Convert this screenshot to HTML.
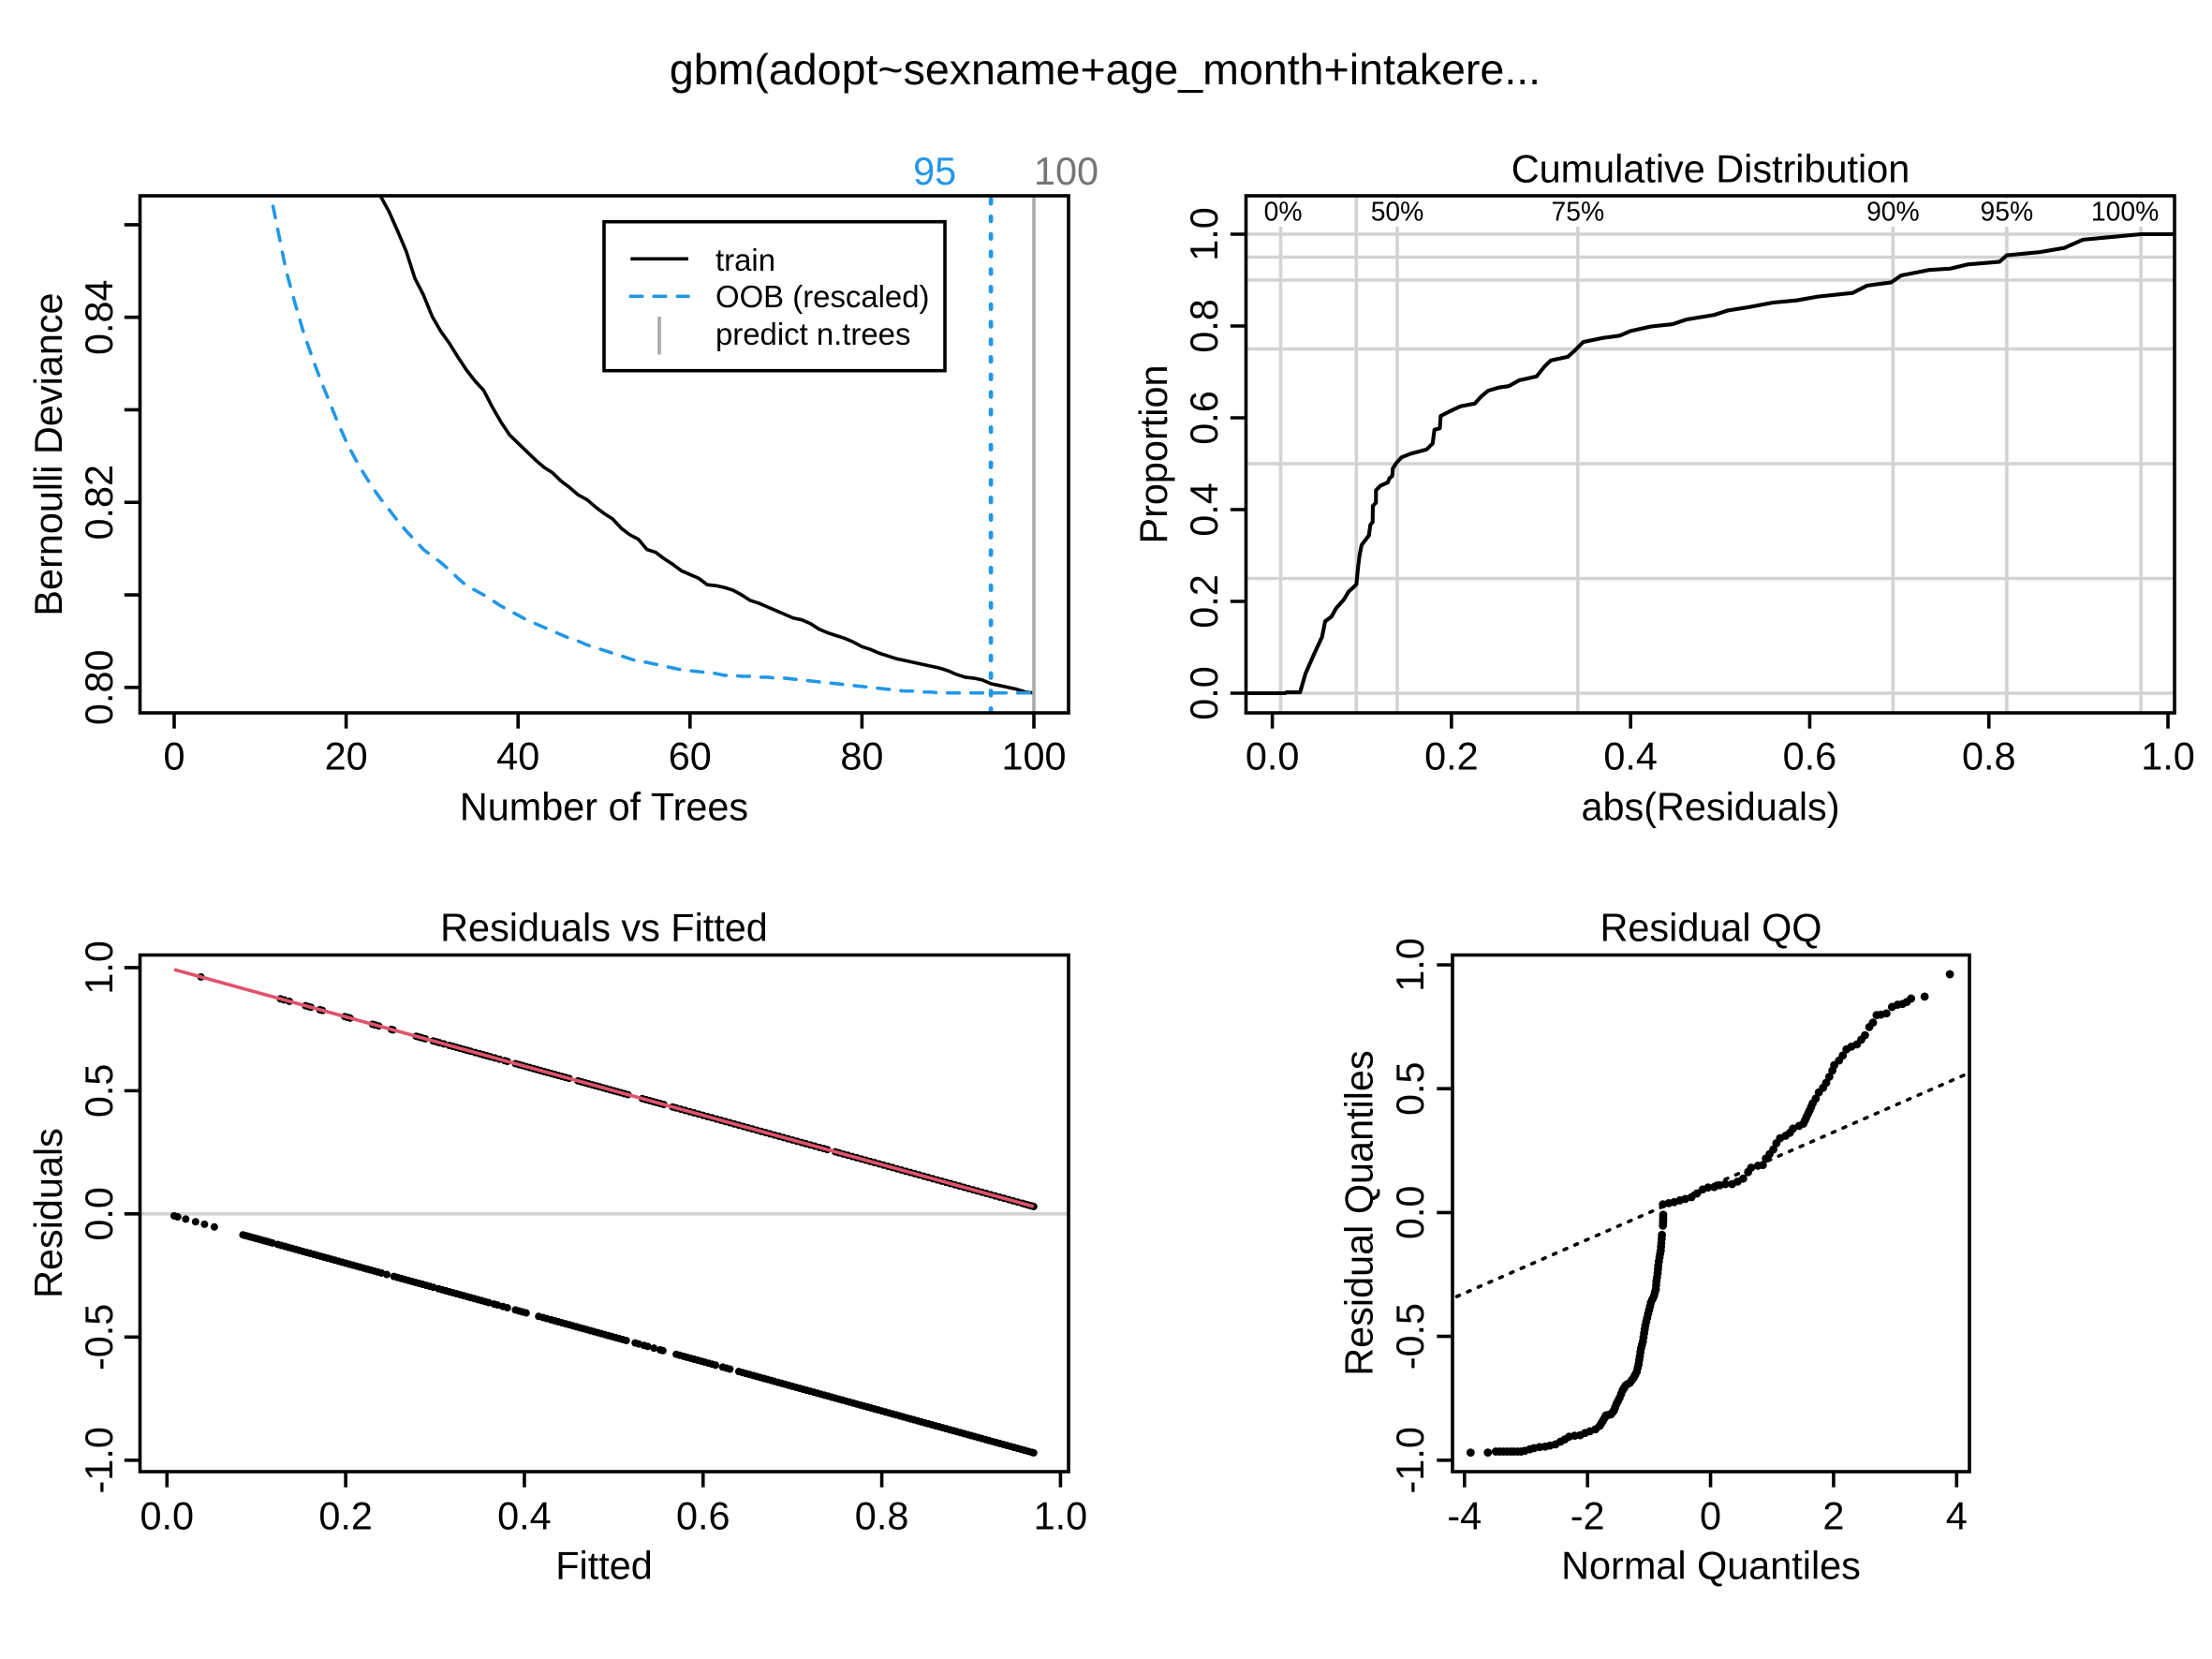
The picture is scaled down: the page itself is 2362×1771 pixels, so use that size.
<!DOCTYPE html>
<html lang="en">
<head>
<meta charset="utf-8">
<title>gbm diagnostics</title>
<style>
html,body{margin:0;padding:0;background:#fff;}
svg{display:block;font-family:"Liberation Sans",Arial,sans-serif;fill:#000;}
text{font-size:41.4px;}
</style>
</head>
<body>
<svg id="chart" xmlns="http://www.w3.org/2000/svg" width="2362" height="1771" viewBox="0 0 2362 1771">
  <rect x="0" y="0" width="2362" height="1771" fill="#fff"/>
  <defs>
    <clipPath id="clip1"><rect x="149.5" y="209" width="991.5" height="552"/></clipPath>
    <clipPath id="clip2"><rect x="1330.5" y="209" width="991.5" height="552"/></clipPath>
    <clipPath id="clip3"><rect x="149.5" y="1019.5" width="991.5" height="551.5"/></clipPath>
    <clipPath id="clip4"><rect x="1551" y="1019.5" width="552" height="551.5"/></clipPath>
  </defs>
  <text x="1180" y="90" text-anchor="middle" style="font-size:46.55px">gbm(adopt~sexname+age_month+intakere...</text>
  <g id="p1"></g>
  <g id="p2"></g>
  <g id="p3"></g>
  <g id="p4"></g>
</svg>
<script>
// ---------- data: deviance panel ----------
const trainTreeStart = 24;
const trainDeviance = [.8531,.8514,.8493,.8471,.8442,.8424,.8401,.8385,.8372,.8357,.8343,.8331,.8321,.8303,.8287,.8273,.8264,.8255,.8246,.8238,.8232,.8223,.8216,.8208,.8203,.8195,.8188,.8182,.8172,.8165,.8160,.8149,.8146,.8139,.8133,.8126,.8122,.8118,.8111,.8110,.8108,.8105,.8100,.8094,.8091,.8087,.8083,.8079,.8075,.8073,.8069,.8063,.8059,.8056,.8053,.8049,.8044,.8041,.8037,.8034,.8031,.8029,.8027,.8025,.8023,.8021,.8018,.8014,.8011,.8010,.8008,.8004,.8002,.8000,.7998,.7995,.7994];
const oobFirstTree = 11.5;
const oobFirstDeviance = .8520;
const oobTreeStart = 12;
const oobDeviance = [.8497,.8451,.8417,.8385,.8358,.8333,.8310,.8287,.8266,.8248,.8232,.8217,.8204,.8192,.8180,.8169,.8159,.8149,.8142,.8135,.8127,.8118,.8110,.8105,.8100,.8094,.8088,.8083,.8078,.8073,.8069,.8065,.8061,.8057,.8053,.8050,.8046,.8043,.8040,.8037,.8034,.8031,.8028,.8027,.8025,.8023,.8021,.8019,.8018,.8017,.8016,.8015,.8013,.8013,.8012,.8012,.8011,.8011,.8010,.8010,.8009,.8008,.8007,.8006,.8005,.8004,.8003,.8002,.8001,.8000,.7999,.7998,.7997,.7996,.7996,.7995,.7995,.7994,.7994,.7994,.7994,.7994,.7994,.7994,.7994,.7994,.7994,.7994,.7994];
const bestTree = 95;
const predictTrees = 100;
const devXTicks = [0,20,40,60,80,100];
const devXTickLabels = ['0','20','40','60','80','100'];
const devYTicks = [.80,.81,.82,.83,.84,.85];
const devYTickLabels = ['0.80','','0.82','','0.84',''];

// ---------- data: cumulative distribution panel ----------
const ecdfResidual = [-.029,.014,.016,.031,.037,.047,.0555,.059,.066,.0712,.0799,.0851,.0938,.0956,.0973,.0997,.1078,.1095,.112,.1123,.1157,.1157,.1207,.1287,.1311,.1339,.1346,.1391,.1444,.1548,.1722,.179,.181,.187,.188,.198,.21,.226,.233,.241,.253,.264,.276,.295,.304,.311,.33,.338,.347,.369,.388,.4,.423,.447,.462,.493,.509,.532,.559,.586,.609,.648,.664,.691,.702,.733,.757,.776,.812,.82,.857,.884,.905,.943,.97,1.008];
const ecdfProportion = [0,0,.002,.002,.0425,.087,.1224,.1565,.1667,.185,.204,.221,.2367,.272,.299,.323,.3435,.367,.3728,.408,.415,.442,.452,.459,.469,.473,.49,.503,.514,.522,.531,.544,.574,.577,.604,.614,.625,.631,.646,.659,.666,.669,.682,.69,.712,.725,.733,.747,.765,.774,.779,.789,.799,.804,.814,.824,.834,.841,.851,.856,.864,.872,.888,.895,.91,.922,.925,.934,.94,.954,.961,.97,.988,.995,1,1];
const quantileProbs = [0,.25,.5,.75,.9,.95,1];
const quantileValues = [.0093,.0938,.1395,.3411,.693,.82,.9698];
const percentLabels = ['0%','50%','75%','90%','95%','100%'];
const percentLabelAt = [.012,.1395,.3411,.693,.82,.952];
const cdfXTicks = [0,.2,.4,.6,.8,1];
const cdfXTickLabels = ['0.0','0.2','0.4','0.6','0.8','1.0'];
const cdfYTicks = [0,.2,.4,.6,.8,1];
const cdfYTickLabels = ['0.0','0.2','0.4','0.6','0.8','1.0'];

// ---------- data: residuals vs fitted panel ----------
const fittedAdopted = [.038,.127,.131,.137,.155,.158,.161,.171,.174,.199,.202,.205,.23,.233,.237,.251,.253,.279,.282,.285,.289,.298,.302,.305,.31,.316,.32,.324,.328,.332,.336,.34,.345,.35,.354,.358,.362,.367,.372,.378,.381,.39,.394,.398,.402,.406,.41,.414,.418,.422,.426,.43,.434,.438,.442,.446,.45,.46,.464,.468,.472,.476,.48,.484,.488,.492,.496,.5,.504,.508,.512,.516,.532,.536,.54,.544,.548,.552,.556,.566,.57,.575,.58,.585,.59,.595,.6,.605,.61,.615,.62,.625,.63,.635,.64,.645,.65,.655,.66,.665,.67,.675,.68,.685,.69,.695,.7,.705,.71,.715,.72,.725,.73,.735,.739,.748,.752,.757,.762,.767,.772,.777,.782,.787,.792,.797,.802,.807,.812,.817,.822,.827,.832,.837,.842,.847,.852,.857,.862,.867,.872,.877,.882,.887,.892,.897,.902,.907,.912,.917,.922,.927,.932,.937,.942,.947,.952,.957,.96,.963,.966,.968,.97];
const fittedNotAdopted = [.008,.012,.021,.032,.042,.053,.085,.088,.091,.094,.097,.1,.103,.106,.109,.112,.115,.118,.124,.128,.132,.136,.14,.144,.148,.152,.156,.16,.164,.168,.172,.176,.18,.184,.188,.192,.196,.2,.204,.208,.212,.216,.22,.224,.228,.232,.236,.24,.246,.254,.258,.262,.266,.27,.274,.278,.282,.286,.29,.294,.298,.304,.308,.312,.316,.32,.324,.328,.332,.336,.34,.344,.348,.352,.356,.36,.366,.37,.376,.381,.39,.394,.398,.402,.416,.421,.425,.43,.434,.438,.442,.446,.45,.454,.458,.462,.466,.47,.474,.478,.482,.486,.49,.494,.498,.502,.506,.51,.514,.524,.528,.534,.538,.545,.552,.555,.57,.574,.578,.582,.586,.59,.594,.598,.602,.606,.61,.614,.622,.626,.63,.64,.644,.648,.652,.656,.66,.664,.668,.672,.676,.68,.684,.688,.692,.696,.7,.704,.708,.712,.716,.72,.724,.728,.732,.736,.74,.744,.748,.752,.756,.76,.764,.768,.772,.776,.78,.784,.788,.792,.796,.8,.804,.808,.812,.816,.82,.824,.828,.832,.836,.84,.844,.848,.852,.856,.86,.864,.868,.872,.876,.88,.884,.888,.892,.896,.9,.904,.908,.912,.916,.92,.924,.928,.932,.936,.94,.944,.948,.952,.956,.96,.964,.968,.97];
const refFitted = [.008,.97];
const refResidual = [.992,.03];
const rvfXTicks = [0,.2,.4,.6,.8,1];
const rvfXTickLabels = ['0.0','0.2','0.4','0.6','0.8','1.0'];
const rvfYTicks = [-1,-.5,0,.5,1];
const rvfYTickLabels = ['-1.0','-0.5','0.0','0.5','1.0'];

// ---------- data: residual QQ panel ----------
const qqNormal = [-3.90,-3.62,-3.49,-3.43,-3.37,-3.31,-3.25,-3.20,-3.14,-3.08,-3.02,-2.94,-2.87,-2.78,-2.69,-2.61,-2.52,-2.44,-2.37,-2.30,-2.21,-2.12,-2.04,-1.96,-1.87,-1.80,
  -1.775,-1.75,-1.725,-1.70,-1.66,-1.62,-1.595,-1.57,-1.55,-1.53,-1.505,-1.48,-1.455,-1.43,-1.405,-1.38,-1.345,-1.31,-1.28,-1.25,-1.225,
  -1.20,-1.185,-1.17,-1.16,-1.15,-1.14,-1.13,-1.115,-1.10,-1.09,-1.08,-1.07,-1.06,-1.045,-1.03,-1.015,-1.00,-.985,-.97,-.945,-.92,-.905,-.89,-.885,-.88,-.87,-.86,-.855,-.85,-.84,-.83,-.82,-.81,-.805,-.80,-.795,-.79,-.775,-.772,-.77,-.77,-.77,
  -.775,-.68,-.59,-.50,-.41,-.31,-.22,-.13,-.04,.06,.15,.24,.35,.44,.53,.61,.66,.77,.85,.90,.96,1.02,1.07,1.13,1.22,1.29,1.34,1.44,1.51,
  1.535,1.56,1.585,1.61,1.635,1.66,1.71,1.76,
  1.83,1.88,1.93,1.98,2.01,2.09,2.15,2.21,2.29,2.38,2.45,2.51,2.58,2.64,2.70,2.77,2.86,2.95,3.04,3.12,3.19,3.26,3.48,3.89];
const qqResidual = [-.969,-.969,-.965,-.965,-.965,-.965,-.965,-.965,-.965,-.965,-.962,-.956,-.951,-.947,-.945,-.941,-.936,-.925,-.916,-.905,-.901,-.899,-.890,-.883,-.875,-.861,
  -.851,-.841,-.83,-.819,-.817,-.815,-.807,-.799,-.786,-.773,-.761,-.749,-.733,-.718,-.708,-.698,-.692,-.687,-.677,-.667,-.655,
  -.643,-.627,-.612,-.596,-.581,-.564,-.548,-.534,-.52,-.503,-.487,-.471,-.456,-.44,-.425,-.409,-.394,-.379,-.364,-.35,-.337,-.323,-.31,-.293,-.277,-.261,-.245,-.229,-.214,-.197,-.181,-.167,-.154,-.138,-.123,-.106,-.09,-.053,-.04,-.029,-.019,-.009,
  .033,.038,.042,.049,.055,.062,.077,.093,.101,.103,.110,.115,.115,.125,.137,.163,.181,.189,.192,.218,.236,.255,.280,.300,.310,.322,.339,.350,.359,
  .372,.386,.399,.412,.426,.441,.460,.485,
  .504,.524,.548,.573,.595,.614,.634,.659,.670,.679,.698,.716,.749,.767,.797,.799,.804,.830,.839,.842,.850,.864,.872,.962];
const qqLineNormal = [-4.3,4.3];
const qqLineResidual = [-.358,.574];
const qqXTicks = [-4,-2,0,2,4];
const qqXTickLabels = ['-4','-2','0','2','4'];
const qqYTicks = [-1,-.5,0,.5,1];
const qqYTickLabels = ['-1.0','-0.5','0.0','0.5','1.0'];

// ---------- helpers ----------
const NS = 'http://www.w3.org/2000/svg';
const LW = 3.6;
function mk(tag, attrs, parent){
  const n = document.createElementNS(NS, tag);
  for (const k in attrs) n.setAttribute(k, attrs[k]);
  parent.appendChild(n);
  return n;
}
function linear(d0, d1, r0, r1){
  return v => r0 + (v - d0) * (r1 - r0) / (d1 - d0);
}
function pathOf(xs, ys, sx, sy){
  return xs.map((v, i) => (i ? 'L' : 'M') + sx(v).toFixed(2) + ' ' + sy(ys[i]).toFixed(2)).join('');
}
function drawFrame(parent, b){
  const frame = mk('rect', {x:b.l, y:b.t, width:b.r-b.l, height:b.b-b.t, fill:'none', stroke:'#000', 'stroke-width':LW}, parent);
  
  
}
function drawXAxis(parent, b, sx, ticks, labels, labelY){
  ticks.forEach((v, i) => {
    const tick = mk('line', {x1:sx(v), x2:sx(v), y1:b.b, y2:b.b+16.7, stroke:'#000', 'stroke-width':LW}, parent);
    
    
    const label = mk('text', {x:sx(v), y:labelY, 'text-anchor':'middle'}, parent);
    label.textContent = labels[i];
    
    
  });
}
function drawYAxis(parent, b, sy, ticks, labels, labelX){
  ticks.forEach((v, i) => {
    const tick = mk('line', {x1:b.l-16.7, x2:b.l, y1:sy(v), y2:sy(v), stroke:'#000', 'stroke-width':LW}, parent);
    
    
    if (labels[i]) {
      const label = mk('text', {x:labelX, y:sy(v), 'text-anchor':'middle', transform:'rotate(-90 '+labelX+' '+sy(v).toFixed(2)+')'}, parent);
      label.textContent = labels[i];
      
      
    }
  });
}
function drawTitles(parent, cx, cy, titleY, title, xlab, xlabY, ylab, ylabX){
  if (title) {
    const t = mk('text', {x:cx, y:titleY, 'text-anchor':'middle'}, parent);
    t.textContent = title;
    
    
  }
  const xt = mk('text', {x:cx, y:xlabY, 'text-anchor':'middle'}, parent);
  xt.textContent = xlab;
  
  
  const yt = mk('text', {x:ylabX, y:cy, 'text-anchor':'middle', transform:'rotate(-90 '+ylabX+' '+cy+')'}, parent);
  yt.textContent = ylab;
  
  
}

// ---------- panel 1: deviance ----------
(function(){
  const g = document.getElementById('p1');
  const b = {l:149.5, r:1141, t:209, b:761};
  const sx = linear(0, 100, 186, 1104);
  const sy = linear(.80, .84, 733.8, 338.7);
  const clip = mk('g', {'clip-path':'url(#clip1)'}, g);
  
  

  const trainTrees = trainDeviance.map((_, i) => trainTreeStart + i);
  const train = mk('path', {d:pathOf(trainTrees, trainDeviance, sx, sy), fill:'none', stroke:'#000', 'stroke-width':LW, 'stroke-linejoin':'round'}, clip);
  
  

  const oobTrees = [oobFirstTree].concat(oobDeviance.map((_, i) => oobTreeStart + i));
  const oobValues = [oobFirstDeviance].concat(oobDeviance);
  const oob = mk('path', {d:pathOf(oobTrees, oobValues, sx, sy), fill:'none', stroke:'#2297E6', 'stroke-width':LW, 'stroke-dasharray':'12.5 12.5', 'stroke-linecap':'round'}, clip);
  
  

  const best = mk('line', {x1:sx(bestTree), x2:sx(bestTree), y1:b.b, y2:b.t, stroke:'#2297E6', 'stroke-width':4.69, 'stroke-dasharray':'4.69 14.06', 'stroke-linecap':'round'}, clip);
  
  

  const pred = mk('line', {x1:sx(predictTrees), x2:sx(predictTrees), y1:b.b, y2:b.t, stroke:'#AAAAAA', 'stroke-width':LW}, clip);
  
  

  const bestLabel = mk('text', {x:sx(bestTree)-60, y:197, 'text-anchor':'middle', fill:'#2297E6'}, g);
  bestLabel.textContent = String(bestTree);
  
  

  const predLabel = mk('text', {x:sx(predictTrees)+34.5, y:197, 'text-anchor':'middle', fill:'#757575'}, g);
  predLabel.textContent = String(predictTrees);
  
  

  drawFrame(g, b);
  drawXAxis(g, b, sx, devXTicks, devXTickLabels, 821.5);
  drawYAxis(g, b, sy, devYTicks, devYTickLabels, 120);
  drawTitles(g, 645, 485, 0, '', 'Number of Trees', 875.5, 'Bernoulli Deviance', 66);

  // legend
  const lg = mk('g', {}, g);
  
  
  const box = mk('rect', {x:645, y:236.7, width:364, height:159, fill:'#fff', stroke:'#000', 'stroke-width':LW}, lg);
  
  
  const k1 = mk('line', {x1:673.3, x2:735, y1:276.3, y2:276.3, stroke:'#000', 'stroke-width':LW}, lg);
  
  
  const k2 = mk('line', {x1:673.3, x2:735, y1:316.3, y2:316.3, stroke:'#2297E6', 'stroke-width':LW, 'stroke-dasharray':'12.5 12.5', 'stroke-linecap':'round'}, lg);
  
  
  const k3 = mk('line', {x1:704, x2:704, y1:338, y2:378.5, stroke:'#AAAAAA', 'stroke-width':LW}, lg);
  
  
  const t1 = mk('text', {x:764, y:289, style:'font-size:32.9px'}, lg);
  t1.textContent = 'train';
  
  
  const t2 = mk('text', {x:764, y:328, style:'font-size:32.9px'}, lg);
  t2.textContent = 'OOB (rescaled)';
  
  
  const t3 = mk('text', {x:764, y:368, style:'font-size:32.9px'}, lg);
  t3.textContent = 'predict n.trees';
  
  
})();

// ---------- panel 2: cumulative distribution ----------
(function(){
  const g = document.getElementById('p2');
  const b = {l:1330.5, r:2322, t:209, b:761};
  const sx = linear(0, 1, 1358.6, 2315);
  const sy = linear(0, 1, 740, 250);
  const clip = mk('g', {'clip-path':'url(#clip2)'}, g);
  
  

  quantileProbs.forEach(p => {
    const h = mk('line', {x1:b.l, x2:b.r, y1:sy(p), y2:sy(p), stroke:'#D3D3D3', 'stroke-width':LW}, clip);
    
    
  });
  quantileValues.forEach(q => {
    const v = mk('line', {x1:sx(q), x2:sx(q), y1:b.t, y2:b.b, stroke:'#D3D3D3', 'stroke-width':LW}, clip);
    
    
  });
  percentLabels.forEach((s, i) => {
    const w = s.length * 16 + 6;
    const bg = mk('rect', {x:sx(percentLabelAt[i]) - w/2, y:212, width:w, height:30, fill:'#fff'}, clip);
    
    
    const t = mk('text', {x:sx(percentLabelAt[i]), y:235.7, 'text-anchor':'middle', style:'font-size:28.3px'}, clip);
    t.textContent = s;
    
    
  });

  const ecdf = mk('path', {d:pathOf(ecdfResidual, ecdfProportion, sx, sy), fill:'none', stroke:'#000', 'stroke-width':4.1, 'stroke-linejoin':'round'}, clip);
  
  

  drawFrame(g, b);
  drawXAxis(g, b, sx, cdfXTicks, cdfXTickLabels, 821.5);
  drawYAxis(g, b, sy, cdfYTicks, cdfYTickLabels, 1300);
  drawTitles(g, 1826.5, 485, 194.5, 'Cumulative Distribution', 'abs(Residuals)', 875.5, 'Proportion', 1246);
})();

// ---------- panel 3: residuals vs fitted ----------
(function(){
  const g = document.getElementById('p3');
  const b = {l:149.5, r:1141, t:1019.5, b:1571};
  const sx = linear(0, 1, 178.3, 1132.4);
  const sy = linear(-1, 1, 1558.8, 1032.9);
  const clip = mk('g', {'clip-path':'url(#clip3)'}, g);
  
  

  const zero = mk('line', {x1:b.l, x2:b.r, y1:sy(0), y2:sy(0), stroke:'#D3D3D3', 'stroke-width':LW}, clip);
  
  

  fittedAdopted.forEach(f => {
    const d = mk('circle', {cx:sx(f), cy:sy(1 - f), r:4, fill:'#000'}, clip);
    
    
  });
  fittedNotAdopted.forEach(f => {
    const d = mk('circle', {cx:sx(f), cy:sy(0 - f), r:4, fill:'#000'}, clip);
    
    
  });

  const ref = mk('path', {d:pathOf(refFitted, refResidual, sx, sy), fill:'none', stroke:'#DF536B', 'stroke-width':LW}, clip);
  
  

  drawFrame(g, b);
  drawXAxis(g, b, sx, rvfXTicks, rvfXTickLabels, 1632.5);
  drawYAxis(g, b, sy, rvfYTicks, rvfYTickLabels, 120);
  drawTitles(g, 645, 1295, 1004.5, 'Residuals vs Fitted', 'Fitted', 1685.5, 'Residuals', 66);
})();

// ---------- panel 4: residual QQ ----------
(function(){
  const g = document.getElementById('p4');
  const b = {l:1551, r:2103, t:1019.5, b:1571};
  const sx = linear(-4, 4, 1563.8, 2089.3);
  const sy = linear(-1, 1, 1558.8, 1030);
  const clip = mk('g', {'clip-path':'url(#clip4)'}, g);
  
  

  const ref = mk('path', {d:pathOf(qqLineNormal, qqLineResidual, sx, sy), fill:'none', stroke:'#000', 'stroke-width':LW, 'stroke-dasharray':'3.125 9.375', 'stroke-linecap':'round'}, clip);
  
  

  qqNormal.forEach((q, i) => {
    const d = mk('circle', {cx:sx(q), cy:sy(qqResidual[i]), r:4.4, fill:'#000'}, clip);
    
    
  });

  drawFrame(g, b);
  drawXAxis(g, b, sx, qqXTicks, qqXTickLabels, 1632.5);
  drawYAxis(g, b, sy, qqYTicks, qqYTickLabels, 1520);
  drawTitles(g, 1827, 1295, 1004.5, 'Residual QQ', 'Normal Quantiles', 1685.5, 'Residual Quantiles', 1465.4);
})();
</script>
</body>
</html>
